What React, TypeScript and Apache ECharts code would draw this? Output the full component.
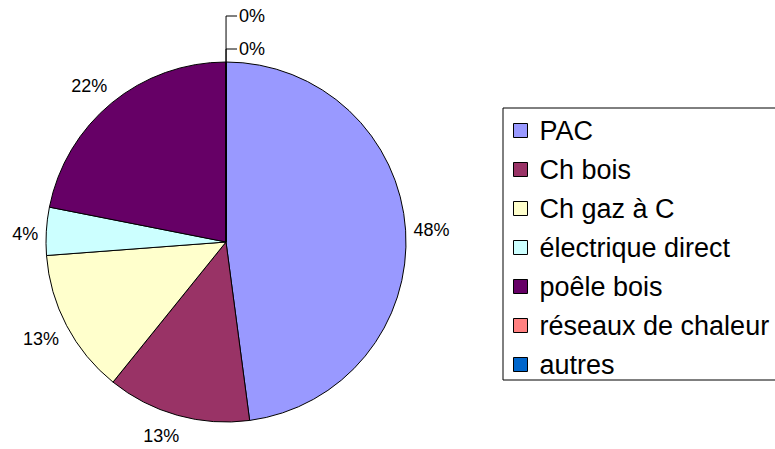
import React, { useEffect, useRef } from "react";
import * as echarts from "echarts";

const categories = [
  "PAC",
  "Ch bois",
  "Ch gaz à C",
  "électrique direct",
  "poêle bois",
  "réseaux de chaleur",
  "autres",
];
const shares = [47.9, 12.9, 13.0, 4.3, 21.9, 0, 0];
const colors = ["#9999FF", "#993366", "#FFFFCC", "#CCFFFF", "#660066", "#FF8080", "#0066CC"];

// label style tweaks (Excel-like placement)
const labelNudge: number[][] = [
  [1, 0],
  [6, 17],
  [-1, 11],
  [-1, 3],
  [1, -14],
  [0, 0],
  [0, 0],
];
const leaderLength = [0, 0, 0, 0, 0, 13, 46];

const FONT = "'Liberation Sans', Arial, sans-serif";

export default function App() {
  const ref = useRef<HTMLDivElement>(null);
  useEffect(() => {
    if (!ref.current) return;
    const chart = echarts.init(ref.current, null, { renderer: "svg" });
    const data = categories.map((name, i) => {
      const isZero = shares[i] === 0;
      return {
        name,
        value: shares[i],
        itemStyle: { color: colors[i] },
        label: isZero ? { distanceToLabelLine: 2 } : { distanceToLabelLine: 3 },
        labelLine: isZero
          ? { show: true, length: leaderLength[i], length2: 11 }
          : { show: false, length: 4, length2: 0 },
      };
    });
    chart.setOption({
      animation: false,
      backgroundColor: "#ffffff",
      textStyle: { fontFamily: FONT },
      legend: {
        orient: "vertical",
        left: 503,
        top: 108,
        padding: [9, 10, 2, 10],
        borderColor: "#000",
        borderWidth: 1,
        itemWidth: 14,
        itemHeight: 14,
        itemGap: 12,
        icon: "rect",
        itemStyle: { borderColor: "#000", borderWidth: 1 },
        textStyle: { fontSize: 27, color: "#000", fontFamily: FONT, padding: [0, 0, 0, 7] },
        data: categories,
        selectedMode: false,
      },
      series: [
        {
          type: "pie",
          center: [226, 242],
          radius: 180,
          startAngle: 89.99,
          clockwise: true,
          avoidLabelOverlap: false,
          percentPrecision: 0,
          itemStyle: { borderColor: "#000", borderWidth: 1 },
          label: {
            show: true,
            position: "outside",
            formatter: "{d}%",
            fontSize: 18,
            color: "#000",
            fontFamily: FONT,
          },
          labelLine: {
            show: false,
            lineStyle: { color: "#000", width: 1 },
          },
          labelLayout: (p: any) => {
            const n = labelNudge[p.dataIndex];
            if (!n || (n[0] === 0 && n[1] === 0)) return {};
            return { dx: n[0], dy: n[1] };
          },
          emphasis: { disabled: true },
          data,
        },
      ],
    });
    return () => chart.dispose();
  }, []);
  return (
    <div
      ref={ref}
      style={{ position: "fixed", left: 0, top: 0, width: 775, height: 449, background: "#fff" }}
    />
  );
}
